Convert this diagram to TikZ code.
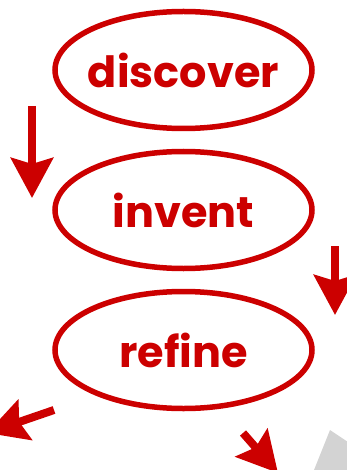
\documentclass[tikz,border=0pt]{standalone}
\usepackage{fontspec}
\setmainfont{Poppins}
\usetikzlibrary{shapes.geometric,arrows.meta}
\definecolor{cyclered}{RGB}{204,0,0}
\definecolor{wedgegray}{RGB}{211,211,211}

\begin{document}
\begin{tikzpicture}[x=1pt,y=-1pt,
		phase/.style={ellipse,draw=cyclered,line width=5.5pt,inner sep=0pt,minimum width=257pt,minimum height=117pt},
		phasetext/.style={text=cyclered,inner sep=0pt,font=\fontsize{43}{43}\selectfont\bfseries},
		flow/.style={draw=cyclered,line width=8pt,-{Stealth[length=40pt,width=42pt,inset=6pt]}}]
		\useasboundingbox (0,0) rectangle (347,470);
		\clip (0,0) rectangle (347,470);

		\fill[wedgegray] (330,430) -- (360,450) -- (360,470) -- (314,470) -- cycle;

		\node[phase] (discover) at (183.5,70) {};
		\node[phase] (invent) at (183.5,210) {};
		\node[phase] (refine) at (183.5,350) {};
		\node[phasetext] (discovertext) at (discover.center) {discover};
		\node[phasetext] (inventtext) at (invent.center) {invent};
		\node[phasetext] (refinetext) at (refine.center) {refine};

		\coordinate (a1s) at (32,106);
		\coordinate (a1e) at (32,198);
		\coordinate (a2s) at (335,246);
		\coordinate (a2e) at (335,315);
		\coordinate (a3s) at (54,410);
		\coordinate (a3e) at (-13,433);
		\coordinate (a4s) at (243,433);
		\coordinate (a4e) at (278,473);

		\draw[flow] (a1s) -- (a1e);
		\draw[flow] (a2s) -- (a2e);
		\draw[flow] (a3s) -- (a3e);
		\draw[flow] (a4s) -- (a4e);
\end{tikzpicture}
\end{document}
